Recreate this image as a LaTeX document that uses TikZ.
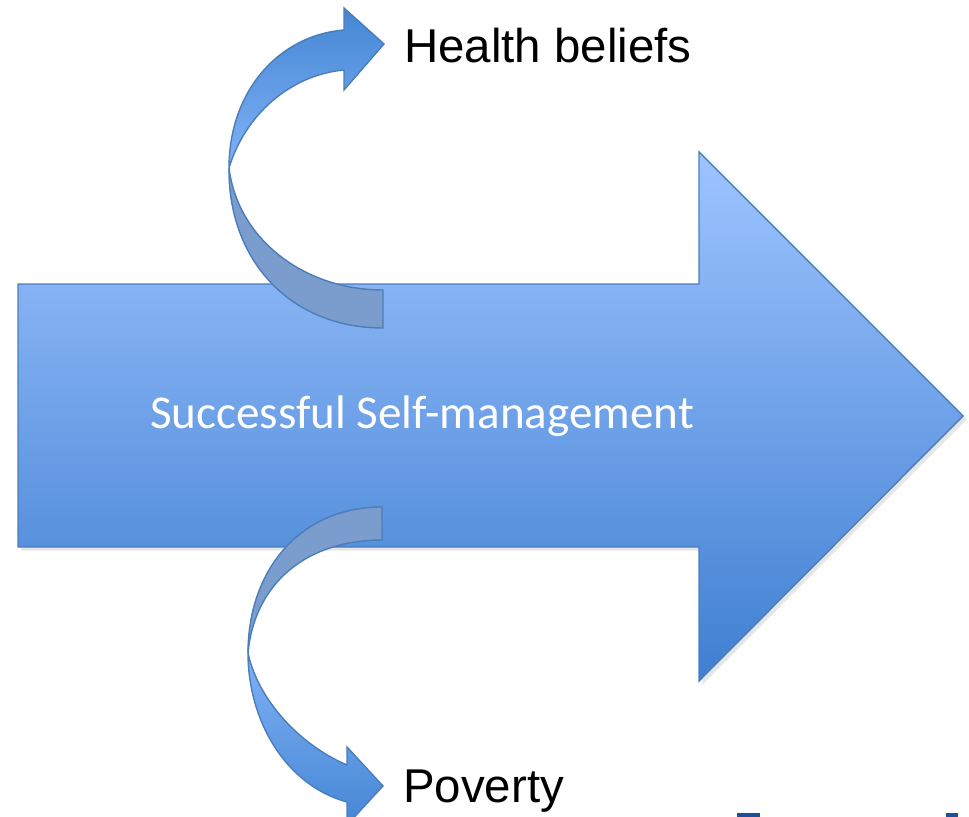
\documentclass[tikz,border=0pt]{standalone}
\usepackage{fontspec}
\setmainfont{Liberation Sans}
\newfontfamily\calibri{Carlito}
\usetikzlibrary{shadows}

\definecolor{arrowtop}{HTML}{9EC4FF}
\definecolor{arrowbot}{HTML}{3F7FD1}
\definecolor{arrowline}{HTML}{4A7EBB}
\definecolor{backside}{HTML}{7B9DCD}
\definecolor{frontlight}{HTML}{80B2F6}
\definecolor{frontdark}{HTML}{4586D4}
\definecolor{cutblue}{HTML}{1F4E9A}

\begin{document}
\begin{tikzpicture}[x=0.02cm, y=-0.02cm,
    bigarrow/.style={draw=arrowline, line width=0.8pt, line join=miter,
      top color=arrowtop, bottom color=arrowbot,
      drop shadow={shadow xshift=2pt, shadow yshift=-2pt, opacity=0.2}},
    backpart/.style={draw=arrowline, line width=0.8pt, fill=backside},
    frontpart/.style={draw=arrowline, line width=0.8pt, line join=miter},
    label/.style={font=\fontsize{27}{32}\selectfont, anchor=base west}]
  \useasboundingbox (0,0) rectangle (969,817);
  % main arrow
  \draw[bigarrow] (18,284) -- (699,284) -- (699,152) -- (963,416)
    -- (699,681) -- (699,547) -- (18,547) -- cycle;
  \node[text=white, font=\calibri\fontsize{26.8}{32}\selectfont] (main) at (422,416) {Successful Self-management};
  % upper curved arrow
  \draw[backpart] (383,290) .. controls (305,290) and (238,240) .. (229,168)
    .. controls (228,260) and (290,328) .. (383,328) -- cycle;
  \draw[frontpart, top color=frontdark, bottom color=frontlight]
    (229,168) .. controls (229,90) and (280,35) .. (344,30) -- (344,8) -- (384,44)
    -- (344,90) -- (344,70) .. controls (290,75) and (245,115) .. (229,168) -- cycle;
  \node[label] (beliefs) at (398,63) {Health beliefs};
  % lower curved arrow
  \draw[backpart] (382,507) .. controls (300,507) and (248,570) .. (248,653)
    .. controls (255,580) and (310,540) .. (382,540) -- cycle;
  \draw[frontpart, top color=frontlight, bottom color=frontdark]
    (248,653) .. controls (248,720) and (285,785) .. (347,802) -- (347,825) -- (383,786)
    -- (347,747) -- (347,765) .. controls (300,745) and (258,700) .. (248,653) -- cycle;
  \node[label] (poverty) at (397,802) {Poverty};
  % cut-off text at the lower edge
  \fill[cutblue] (737,813) rectangle (760,817);
  \fill[cutblue] (946,813) rectangle (958,817);
\end{tikzpicture}
\end{document}
